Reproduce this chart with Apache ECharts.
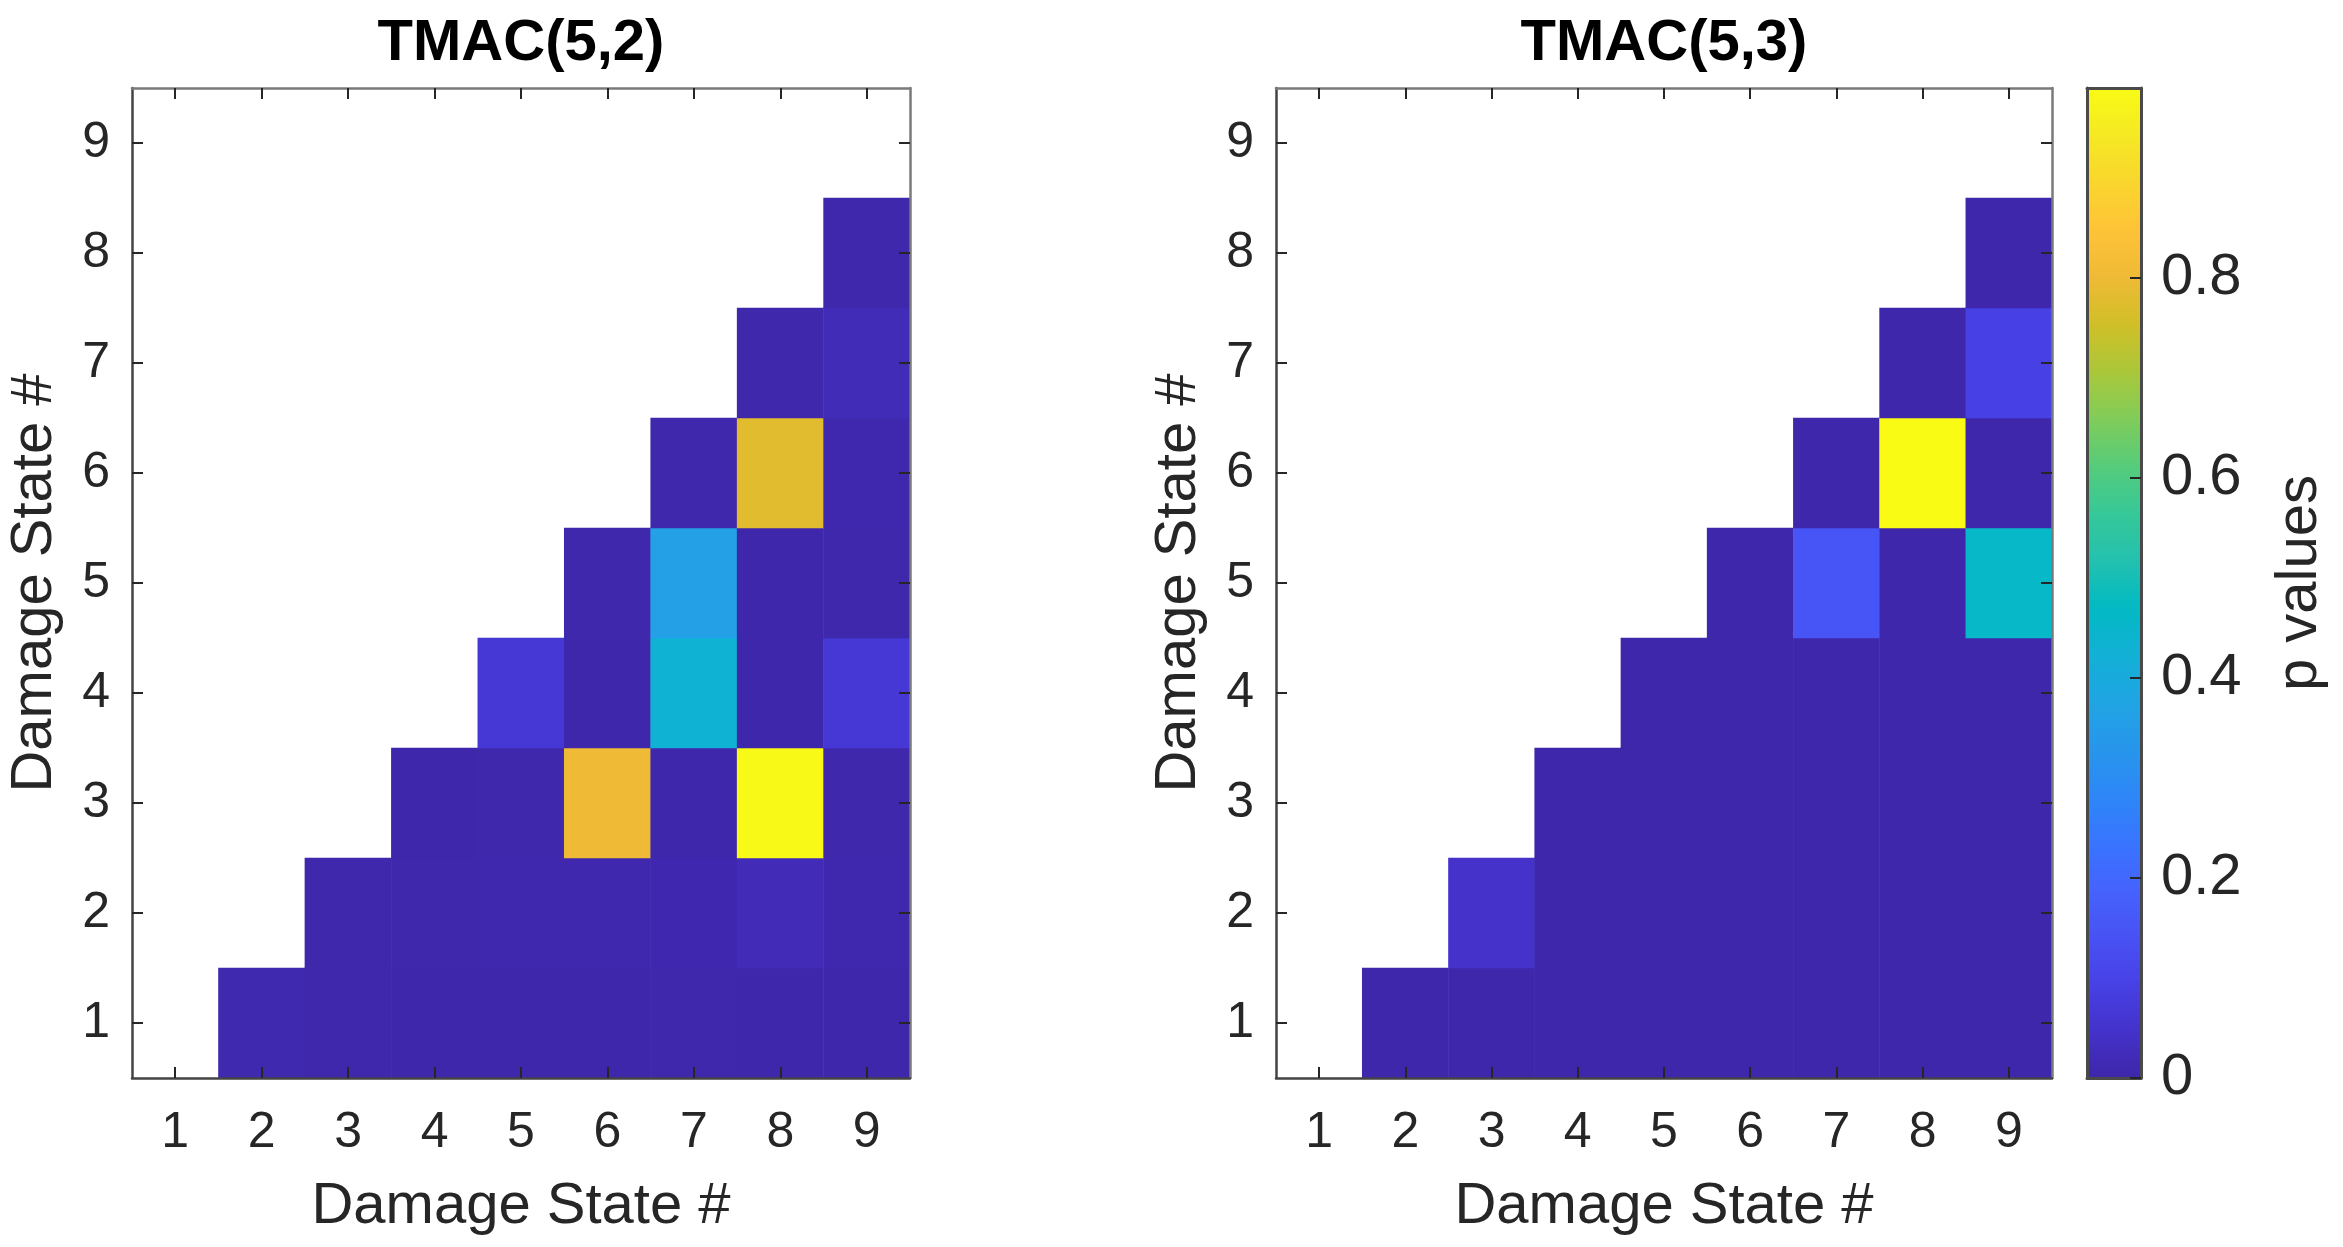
<!DOCTYPE html>
<html>
<head>
<meta charset="utf-8">
<title>TMAC p values</title>
<script src="https://cdn.jsdelivr.net/npm/echarts@6/dist/echarts.min.js"></script>
<style>
  html, body { margin: 0; padding: 0; background: #fff; }
  #chart { width: 2343px; height: 1247px; }
</style>
</head>
<body>
<div id="chart"></div>
<script>
// damage states on both axes
var states = ['1', '2', '3', '4', '5', '6', '7', '8', '9'];

// p values, one row per y state (1..8), columns are x states 1..9, null = no cell
var tmac52 = [
    [null, 0.010, 0.006, 0.005, 0.005, 0.005, 0.006, 0.005, 0.004],
    [null, null, 0.006, 0.006, 0.007, 0.008, 0.009, 0.020, 0.008],
    [null, null, null, 0.005, 0.006, 0.80, 0.005, 0.985, 0.006],
    [null, null, null, null, 0.065, 0.005, 0.43, 0.005, 0.065],
    [null, null, null, null, null, 0.006, 0.36, 0.005, 0.006],
    [null, null, null, null, null, null, 0.006, 0.78, 0.007],
    [null, null, null, null, null, null, null, 0.006, 0.022],
    [null, null, null, null, null, null, null, null, 0.006]
];
var tmac53 = [
    [null, 0.004, 0.004, 0.004, 0.004, 0.004, 0.004, 0.004, 0.004],
    [null, null, 0.047, 0.004, 0.004, 0.004, 0.004, 0.004, 0.004],
    [null, null, null, 0.004, 0.004, 0.004, 0.004, 0.004, 0.004],
    [null, null, null, null, 0.004, 0.004, 0.004, 0.004, 0.004],
    [null, null, null, null, null, 0.004, 0.15, 0.004, 0.46],
    [null, null, null, null, null, null, 0.004, 0.99, 0.004],
    [null, null, null, null, null, null, null, 0.004, 0.094],
    [null, null, null, null, null, null, null, null, 0.004]
];

// colour bar range
var pMin = 0;
var pMax = 0.99;
var pStep = 0.2;

// parula colormap
var parula = ['#3e26a8', '#4432cb', '#4741e5', '#4852f4', '#4563fd', '#3875fe', '#2e87f7', '#2796eb',
    '#20a5e3', '#12b1d6', '#02bac3', '#24c1ae', '#37c897', '#57cc7a', '#81cc59', '#abc739',
    '#d1bf27', '#f0ba36', '#fec338', '#fad62d', '#f5e924', '#f9fb15'];

function toCells(rows) {
    var out = [];
    rows.forEach(function (row, yi) {
        row.forEach(function (v, xi) {
            if (v !== null) out.push([xi, yi, v]);
        });
    });
    return out;
}

var FONT = '"Liberation Sans", Arial, sans-serif';
var DARK = '#262626';
var lineDark = { show: true, onZero: false, lineStyle: { color: '#444', width: 2.5 } };
var lineGray = { show: true, onZero: false, lineStyle: { color: '#7a7a7a', width: 2.5 } };
var lineBar = { show: true, onZero: false, lineStyle: { color: '#4a4a4a', width: 3 } };
var tickIn = { show: true, inside: true, alignWithLabel: true, interval: 0, length: 11, lineStyle: { color: DARK, width: 2 } };

function catAxis(grid, pos, withText) {
    var a = {
        type: 'category',
        gridIndex: grid,
        position: pos,
        data: states,
        z: 10,
        axisLine: (pos === 'bottom' || pos === 'left') ? lineDark : lineGray,
        axisTick: tickIn,
        splitLine: { show: false },
        axisLabel: { show: withText, interval: 0, fontSize: 50, fontFamily: FONT, color: DARK,
            margin: (pos === 'bottom') ? 30 : 22 }
    };
    if (withText) {
        a.name = 'Damage State #';
        a.nameLocation = 'middle';
        a.nameTextStyle = { fontSize: 58, fontFamily: FONT, color: DARK };
        if (pos === 'bottom') {
            a.nameGap = 100;
        } else {
            a.nameGap = 68;
            a.nameRotate = 90;
        }
    }
    return a;
}

var myChart = echarts.init(document.getElementById('chart'));

var option = {
    backgroundColor: '#fff',
    animation: false,
    title: [
        { text: 'TMAC(5,2)', left: 521, top: 15, padding: 0, textAlign: 'center',
          textStyle: { fontSize: 58, fontWeight: 'bold', fontFamily: FONT, color: '#000' } },
        { text: 'TMAC(5,3)', left: 1664, top: 15, padding: 0, textAlign: 'center',
          textStyle: { fontSize: 58, fontWeight: 'bold', fontFamily: FONT, color: '#000' } }
    ],
    grid: [
        { left: 132, top: 88, width: 778, height: 990 },
        { left: 1276, top: 88, width: 776, height: 990 },
        { left: 2087, top: 88, width: 54, height: 990 }
    ],
    xAxis: [
        catAxis(0, 'bottom', true),
        catAxis(0, 'top', false),
        catAxis(1, 'bottom', true),
        catAxis(1, 'top', false),
        { type: 'value', gridIndex: 2, position: 'bottom', min: 0, max: 1, z: 10,
          axisLine: lineBar, axisTick: { show: false }, axisLabel: { show: false }, splitLine: { show: false } },
        { type: 'value', gridIndex: 2, position: 'top', min: 0, max: 1, z: 10,
          axisLine: lineBar, axisTick: { show: false }, axisLabel: { show: false }, splitLine: { show: false } }
    ],
    yAxis: [
        catAxis(0, 'left', true),
        catAxis(0, 'right', false),
        catAxis(1, 'left', true),
        catAxis(1, 'right', false),
        { type: 'value', gridIndex: 2, position: 'left', min: pMin, max: pMax, z: 10,
          axisLine: lineBar, axisTick: { show: false }, axisLabel: { show: false }, splitLine: { show: false } },
        { type: 'value', gridIndex: 2, position: 'right', min: pMin, max: pMax, interval: pStep, z: 10,
          axisLine: lineBar,
          axisTick: { show: true, inside: true, length: 11, lineStyle: { color: DARK, width: 2 } },
          splitLine: { show: false },
          axisLabel: { show: true, margin: 20, fontSize: 58, fontFamily: FONT, color: DARK, showMaxLabel: false,
              formatter: function (v) { return v === 0 ? '0' : v.toFixed(1); } },
          name: 'p values', nameLocation: 'middle', nameRotate: 90, nameGap: 130,
          nameTextStyle: { fontSize: 58, fontFamily: FONT, color: DARK } }
    ],
    visualMap: {
        type: 'continuous',
        min: pMin,
        max: pMax,
        seriesIndex: [0, 1],
        calculable: false,
        orient: 'vertical',
        left: 2087,
        top: 88,
        z: 2,
        padding: 0,
        itemWidth: 54,
        itemHeight: 990,
        hoverLink: false,
        inRange: { color: parula }
    },
    series: [
        { name: 'TMAC(5,2)', type: 'heatmap', xAxisIndex: 0, yAxisIndex: 0, data: toCells(tmac52),
          emphasis: { disabled: true } },
        { name: 'TMAC(5,3)', type: 'heatmap', xAxisIndex: 2, yAxisIndex: 2, data: toCells(tmac53),
          emphasis: { disabled: true } }
    ]
};

myChart.setOption(option);
window.addEventListener('resize', function () {
    myChart.resize();
});
</script>
</body>
</html>
